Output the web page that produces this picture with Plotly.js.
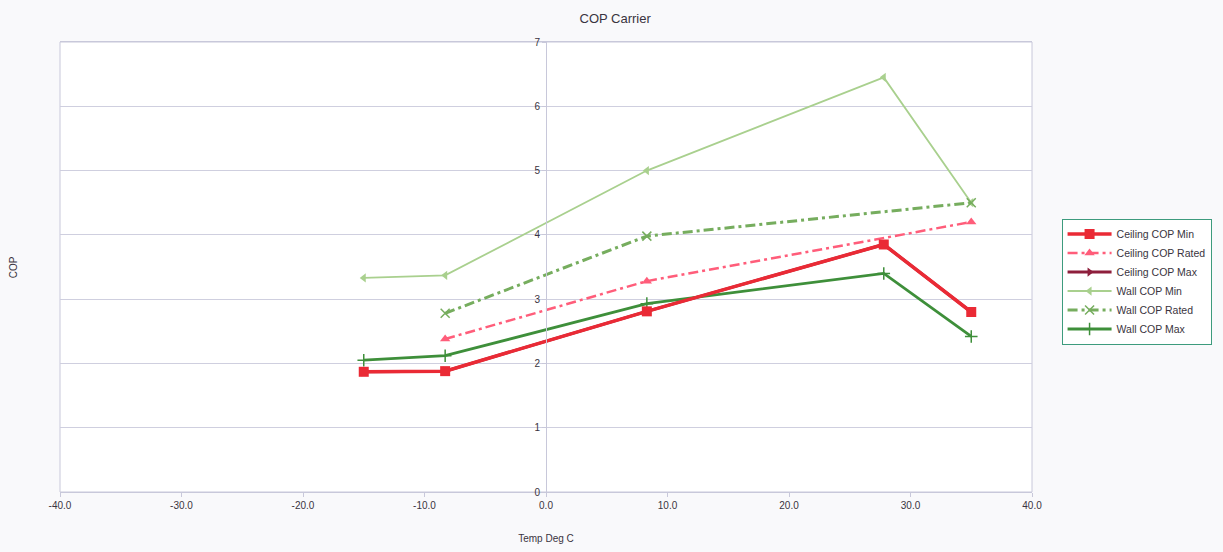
<!DOCTYPE html>
<html>
<head>
<meta charset="utf-8">
<script src="https://cdn.plot.ly/plotly-3.0.1.min.js"></script>
<style>
  html, body { margin: 0; padding: 0; background: #f9f9fb; }
  #chart { width: 1223px; height: 552px; }
</style>
</head>
<body>
<div id="chart"></div>
<script>
// Outdoor temperatures (°C) at the rating points
const tempC = [-15, -8.3, 8.3, 27.8, 35];

// COP values per unit type and operating point
const ceilingMin   = [1.87, 1.88, 2.81, 3.85, 2.80];
const ceilingRated = [null, 2.38, 3.28, null, 4.20];
const ceilingMax   = [1.87, 1.88, 2.81, 3.85, 2.80];
const wallMin      = [3.33, 3.37, 5.00, 6.45, 4.50];
const wallRated    = [null, 2.78, 3.98, null, 4.50];
const wallMax      = [2.05, 2.12, 2.93, 3.40, 2.42];

const xTicks = [-40, -30, -20, -10, 0, 10, 20, 30, 40];
const xTickLabels = ['-40.0', '-30.0', '-20.0', '-10.0', '0.0', '10.0', '20.0', '30.0', '40.0'];
const yTicks = [0, 1, 2, 3, 4, 5, 6, 7];

function series(name, y, color, width, dash, symbol, size, rank) {
  const thin = symbol.indexOf('thin') >= 0;
  return {
    type: 'scatter', mode: 'lines+markers', name: name,
    x: tempC, y: y, connectgaps: true, legendrank: rank,
    line: { color: color, width: width, dash: dash },
    marker: { symbol: symbol, size: size, color: color,
              line: { color: color, width: thin ? 1.5 : 0 } }
  };
}

// Drawing order keeps the red ceiling-min line above the identical max line;
// legendrank keeps the legend in the usual order.
const traces = [
  series('Ceiling COP Max',   ceilingMax,   '#8e1f3c', 3,   'solid', 'triangle-right', 8, 3),
  series('Wall COP Min',      wallMin,      '#a9d08e', 1.8, 'solid', 'triangle-left',  8, 4),
  series('Wall COP Rated',    wallRated,    '#76ad5e', 3,   '10px,4px,3px,4px', 'x-thin-open', 9, 5),
  series('Ceiling COP Rated', ceilingRated, '#ff5d7a', 2.5, '10px,4px,3px,4px', 'triangle-up', 9, 2),
  series('Wall COP Max',      wallMax,      '#3e8f3a', 2.8, 'solid', 'cross-thin-open', 9, 6),
  series('Ceiling COP Min',   ceilingMin,   '#ea2a35', 3.5, 'solid', 'square', 10, 1)
];

const layout = {
  width: 1223, height: 552,
  paper_bgcolor: '#f9f9fb', plot_bgcolor: '#ffffff',
  margin: { l: 60, r: 191, t: 42, b: 60 },
  font: { family: 'Liberation Sans, Arial, sans-serif', color: '#3a3440' },
  title: { text: 'COP Carrier', x: 0.503, xanchor: 'center',
           y: 0.967, yanchor: 'middle',
           font: { size: 13, color: '#3a3440' } },
  showlegend: true,
  legend: {
    xref: 'container', yref: 'container',
    x: 0.868, y: 0.49, xanchor: 'left', yanchor: 'middle',
    bgcolor: '#ffffff', bordercolor: '#3d9b7d', borderwidth: 1,
    font: { size: 10.5, color: '#3a3440' }, tracegroupgap: 0,
    itemwidth: 44
  },
  xaxis: {
    range: [-40, 40], tickvals: xTicks, ticktext: xTickLabels,
    showgrid: false, zeroline: false,
    showline: true, linecolor: '#c8c8da', linewidth: 1, mirror: true,
    ticks: 'outside', ticklen: 4, tickcolor: '#c8c8da',
    tickfont: { size: 10, color: '#3a3440' },
    title: { text: 'Temp Deg C', font: { size: 10, color: '#3a3440' }, standoff: 24 }
  },
  yaxis: {
    range: [0, 7], tickvals: yTicks,
    anchor: 'free', position: 0.5,
    showgrid: true, gridcolor: '#cfcfdf', gridwidth: 1,
    zeroline: false, showline: true, linecolor: '#c8c8da', linewidth: 1,
    ticks: 'outside', ticklen: 4, tickcolor: '#c8c8da',
    tickfont: { size: 10, color: '#3a3440' }
  },
  annotations: [{
    text: 'COP', xref: 'paper', yref: 'paper', x: -0.048, y: 0.5,
    xanchor: 'center', yanchor: 'middle', textangle: -90, showarrow: false,
    font: { size: 10, color: '#3a3440' }
  }],
  shapes: [{
    type: 'rect', xref: 'paper', yref: 'paper', x0: 0, x1: 1, y0: 0, y1: 1,
    line: { color: '#c8c8da', width: 1 }, layer: 'below'
  }]
};

Plotly.newPlot('chart', traces, layout, { displayModeBar: false, staticPlot: true });
</script>
</body>
</html>
